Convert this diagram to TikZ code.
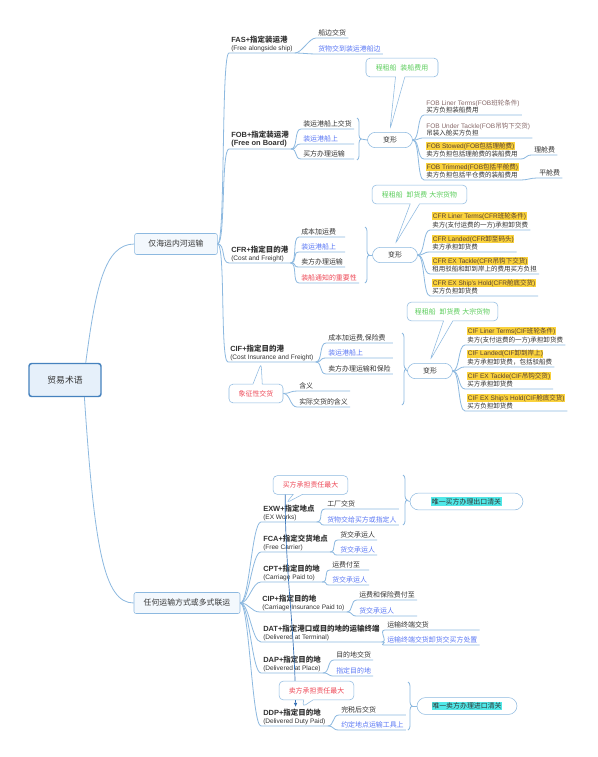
\documentclass[tikz,border=0pt]{standalone}
\usepackage{fontspec}
\setmainfont{Liberation Sans}
\newfontfamily\cjkfont{Noto Sans CJK SC}
\usetikzlibrary{shapes.callouts,decorations.pathreplacing,arrows.meta}

% Chinese characters switch to the CJK family
\XeTeXinterchartokenstate=1
\newXeTeXintercharclass\cjkclass
\count255="3000
\loop \XeTeXcharclass\count255=\cjkclass \ifnum\count255<"9FFF \advance\count255 by 1 \repeat
\count255="FF00
\loop \XeTeXcharclass\count255=\cjkclass \ifnum\count255<"FFEF \advance\count255 by 1 \repeat
\XeTeXinterchartoks 0 \cjkclass = {\begingroup\cjkfont}
\XeTeXinterchartoks 4095 \cjkclass = {\begingroup\cjkfont}
\XeTeXinterchartoks \cjkclass 0 = {\endgroup}
\XeTeXinterchartoks \cjkclass 4095 = {\endgroup}

\definecolor{lnk}{RGB}{141,185,224}
\definecolor{rootdraw}{RGB}{70,130,190}
\definecolor{rootfill}{RGB}{230,240,250}
\definecolor{brfill}{RGB}{243,248,253}
\definecolor{txt}{RGB}{51,51,51}
\definecolor{bluetxt}{RGB}{90,120,245}
\definecolor{redtxt}{RGB}{238,72,86}
\definecolor{greentxt}{RGB}{90,205,90}
\definecolor{browntxt}{RGB}{135,105,105}
\definecolor{hltxt}{RGB}{90,65,50}
\definecolor{hlyellow}{RGB}{250,210,60}
\definecolor{hlcyan}{RGB}{80,232,232}
\definecolor{reltxt}{RGB}{50,110,180}

\newcommand\hly[1]{{\setlength\fboxsep{0.4pt}\colorbox{hlyellow}{\textcolor{hltxt}{#1}}}}
\newcommand\hlc[1]{{\setlength\fboxsep{0.6pt}\colorbox{hlcyan}{#1}}}
\newcommand\ttl[1]{{\fontsize{5.6pt}{6pt}\selectfont\bfseries #1}}

\begin{document}
\begin{tikzpicture}[x=0.75pt,y=-0.75pt,color=txt]
\tikzstyle{line} = [draw=lnk, line width=0.6pt]
\tikzstyle{root} = [rectangle, draw=rootdraw, line width=1.1pt, fill=rootfill, rounded corners=2pt,
minimum width=54pt, minimum height=24.75pt, font=\fontsize{6.6pt}{7pt}\selectfont]
\tikzstyle{branch} = [rectangle, draw=lnk, fill=brfill, rounded corners=1.5pt, minimum height=15.75pt,
font=\fontsize{5.9pt}{6pt}\selectfont]
\tikzstyle{topic} = [anchor=south west, align=left, inner xsep=1.5pt, inner ysep=1pt, font=\fontsize{4.9pt}{6pt}\selectfont]
\tikzstyle{leaf} = [anchor=south west, inner xsep=1.5pt, inner ysep=1.2pt, font=\fontsize{5.2pt}{6pt}\selectfont]
\tikzstyle{item} = [anchor=south west, align=left, inner xsep=1.5pt, inner ysep=1pt, font=\fontsize{4.9pt}{5.4pt}\selectfont]
\tikzstyle{variant} = [rectangle, draw=lnk, fill=white, rounded corners=6pt, minimum width=33.75pt,
minimum height=11.5pt, font=\fontsize{5.2pt}{6pt}\selectfont]
\tikzstyle{note} = [rectangle callout, draw=lnk, fill=white, rounded corners=3pt, callout pointer width=7pt,
minimum height=14pt, font=\fontsize{5.2pt}{6pt}\selectfont]
\tikzstyle{summary} = [rectangle, draw=lnk, fill=white, rounded corners=6.5pt, minimum height=12.5pt,
font=\fontsize{5.2pt}{6pt}\selectfont]
\tikzstyle{sumbrace} = [draw=lnk, line width=0.6pt, decorate, decoration={brace, amplitude=3pt}]
\tikzstyle{rel} = [draw=reltxt, line width=0.5pt, -{Latex[length=3pt,width=2.6pt]}]

\fill[white] (0,0) rectangle (598,757);
\useasboundingbox (0,0) rectangle (598,757);

% root and main branches
\node[root] (terms) at (65,380) {贸易术语};
\node[branch, minimum width=62pt] (sea) at (176,244) {仅海运内河运输};
\node[branch, minimum width=79.5pt] (any) at (187,603) {任何运输方式或多式联运};

% FAS
\node[topic] (fas) at (229,53) {\ttl{FAS+指定装运港}\\(Free alongside ship)};
\node[leaf] (fas1) at (316,38) {船边交货};
\node[leaf, text=bluetxt] (fas2) at (316,54) {货物交到装运港船边};

% FOB
\node[topic] (fob) at (229,149) {\ttl{FOB+指定装运港}\\\ttl{(Free on Board)}};
\node[leaf] (fob1) at (301,129) {装运港船上交货};
\node[leaf, text=bluetxt] (fob2) at (301,144) {装运港船上};
\node[leaf] (fob3) at (301,159) {买方办理运输};
\coordinate (fobb) at (361,139);
\node[variant] (fobv) at (390,140) {变形};
\node[note, callout absolute pointer={([yshift=2pt]fobv.north)}, minimum width=54pt, text=greentxt] (fobn) at (402,67.5) {程租船\ \ 装船费用};
\node[item] (fobv1) at (424,115) {\textcolor{browntxt}{FOB Liner Terms(FOB班轮条件)}\\买方负担装船费用};
\node[item] (fobv2) at (424,138) {\textcolor{browntxt}{FOB Under Tackle(FOB吊钩下交货)}\\吊装入舱买方负担};
\node[item] (fobv3) at (424,159) {\hly{FOB Stowed(FOB包括理舱费)}\\卖方负担包括理舱费的装船费用};
\node[item] (fobv4) at (424,180) {\hly{FOB Trimmed(FOB包括平舱费)}\\卖方负担包括平仓费的装船费用};
\node[leaf] (fobs) at (532,155) {理舱费};
\node[leaf] (fobt) at (537,178) {平舱费};

% CFR
\node[topic] (cfr) at (229,263) {\ttl{CFR+指定目的港}\\(Cost and Freight)};
\node[leaf] (cfr1) at (299,237) {成本加运费};
\node[leaf, text=bluetxt] (cfr2) at (299,252) {装运港船上};
\node[leaf] (cfr3) at (299,267) {卖方办理运输};
\node[leaf, text=redtxt] (cfr4) at (299,283) {装船通知的重要性};
\coordinate (cfrb) at (369,255);
\node[variant] (cfrv) at (395,255) {变形};
\node[note, callout absolute pointer={([yshift=2pt]cfrv.north)}, minimum width=71pt, text=greentxt] (cfrn) at (419.5,194.5) {程租船\ \ 卸货费 大宗货物};
\node[item] (cfrv1) at (430,230) {\hly{CFR Liner Terms(CFR班轮条件)}\\卖方(支付运费的一方)承担卸货费};
\node[item] (cfrv2) at (430,252) {\hly{CFR Landed(CFR卸至码头)}\\卖方承担卸货费};
\node[item] (cfrv3) at (430,274) {\hly{CFR EX Tackle(CFR吊钩下交货)}\\租用驳船和卸到岸上的费用买方负担};
\node[item] (cfrv4) at (430,296) {\hly{CFR EX Ship\char"27 s Hold(CFR舱底交货)}\\买方负担卸货费};

% CIF
\node[topic] (cif) at (228,362) {\ttl{CIF+指定目的港}\\(Cost Insurance and Freight)};
\node[leaf] (cif1) at (326,343) {成本加运费,保险费};
\node[leaf, text=bluetxt] (cif2) at (326,358) {装运港船上};
\node[leaf] (cif3) at (326,374) {卖方办理运输和保险};
\node[note, callout absolute pointer={([xshift=-8pt,yshift=-1pt]cif.south)}, minimum width=40.5pt, text=redtxt] (cifn) at (256,393.5) {象征性交货};
\node[leaf] (cifx1) at (297,391) {含义};
\node[leaf] (cifx2) at (297,407) {实际交货的含义};
\coordinate (cifb) at (405,369);
\node[variant] (cifv) at (430,371) {变形};
\node[note, callout absolute pointer={([yshift=2pt]cifv.north)}, minimum width=68pt, text=greentxt] (cifn2) at (452.5,311.5) {程租船\ \ 卸货费 大宗货物};
\node[item] (cifv1) at (465,345) {\hly{CIF Liner Terms(CIF班轮条件)}\\卖方(支付运费的一方)承担卸货费};
\node[item] (cifv2) at (465,367) {\hly{CIF Landed(CIF卸到岸上)}\\卖方承担卸货费，包括驳船费};
\node[item] (cifv3) at (465,389) {\hly{CIF EX Tackle(CIF吊钩交货)}\\买方承担卸货费};
\node[item] (cifv4) at (465,411) {\hly{CIF EX Ship\char"27 s Hold(CIF舱底交货)}\\买方负担卸货费};

% any mode of transport
\node[topic] (exw) at (261,522) {\ttl{EXW+指定地点}\\(EX Works)};
\node[leaf] (exw1) at (325,509) {工厂交货};
\node[leaf, text=bluetxt] (exw2) at (325,525) {货物交给买方或指定人};
\node[topic] (fca) at (261,552) {\ttl{FCA+指定交货地点}\\(Free Carrier)};
\node[leaf] (fca1) at (338,540) {货交承运人};
\node[leaf, text=bluetxt] (fca2) at (338,555) {货交承运人};
\node[topic] (cpt) at (261,582) {\ttl{CPT+指定目的地}\\(Carriage Paid to)};
\node[leaf] (cpt1) at (330,570) {运费付至};
\node[leaf, text=bluetxt] (cpt2) at (330,585) {货交承运人};
\node[topic] (cip) at (260,612) {\ttl{CIP+指定目的地}\\(Carriage Insurance Paid to)};
\node[leaf] (cip1) at (357,600) {运费和保险费付至};
\node[leaf, text=bluetxt] (cip2) at (357,616) {货交承运人};
\node[topic] (dat) at (261,642) {\ttl{DAT+指定港口或目的地的运输终端}\\(Delivered at Terminal)};
\node[leaf] (dat1) at (385,630) {运输终端交货};
\node[leaf, text=bluetxt] (dat2) at (385,645) {运输终端交货卸货交买方处置};
\node[topic] (dap) at (261,673) {\ttl{DAP+指定目的地}\\(Delivered at Place)};
\node[leaf] (dap1) at (334,660) {目的地交货};
\node[leaf, text=bluetxt] (dap2) at (334,676) {指定目的地};
\node[topic] (ddp) at (261,726) {\ttl{DDP+指定目的地}\\(Delivered Duty Paid)};
\node[leaf] (ddp1) at (339,715) {完税后交货};
\node[leaf, text=bluetxt] (ddp2) at (339,730) {约定地点运输工具上};
\node[note, callout absolute pointer={([xshift=-2pt]exw.north)}, minimum width=56pt, text=redtxt] (exwn) at (310.5,485) {买方承担责任最大};
\draw[rel] ([xshift=-19pt]exwn.south) .. controls +(0,80) and +(-1,-80) .. ([xshift=1pt]ddp.north);
\node[note, callout absolute pointer={([xshift=6pt]ddp.north)}, minimum width=56pt, text=redtxt] (ddpn) at (316.5,690.5) {卖方承担责任最大};
\coordinate (exwb) at (406,500);
\node[summary, minimum width=84.75pt] (exws) at (466.5,501.5) {\hlc{唯一买方办理出口清关}};
\coordinate (ddpb) at (411,706);
\node[summary, minimum width=75pt] (ddps) at (467,706) {\hlc{唯一卖方办理进口清关}};

% connectors
\draw[line] ([xshift=-12pt]terms.north east) .. controls +(10,-75) and +(-30,0) .. (sea.west);
\draw[line] ([xshift=-13pt]terms.south east) .. controls +(10,150) and +(-30,0) .. (any.west);
\foreach \t in {fas,fob,cfr,cif}
  \draw[line] (sea.east) .. controls +(8,0) and +(-8,0) .. (\t.south west) -- (\t.south east);
\foreach \t in {exw,fca,cpt,cip,dat,dap,ddp}
  \draw[line] (any.east) .. controls +(9,0) and +(-9,0) .. (\t.south west) -- (\t.south east);
\foreach \t/\l/\e in {fas/fas1/fas1,fas/fas2/fas2,fob/fob1/fob1,fob/fob2/fob1,fob/fob3/fob1,
  cfr/cfr1/cfr3,cfr/cfr2/cfr3,cfr/cfr3/cfr3,cfr/cfr4/cfr4,cif/cif1/cif3,cif/cif2/cif3,cif/cif3/cif3,
  fobv3/fobs/fobs,fobv4/fobt/fobt,exw/exw1/exw2,exw/exw2/exw2,fca/fca1/fca1,fca/fca2/fca2,
  cpt/cpt1/cpt2,cpt/cpt2/cpt2,cip/cip1/cip1,cip/cip2/cip1,dat/dat1/dat2,dat/dat2/dat2,
  dap/dap1/dap1,dap/dap2/dap1,ddp/ddp1/ddp2,ddp/ddp2/ddp2}
  \draw[line] (\t.south east) .. controls +(7,0) and +(-7,0) .. (\l.south west) -- (\l.south west -| \e.south east);
\foreach \l in {cifx1,cifx2}
  \draw[line] (cifn.east) .. controls +(7,0) and +(-7,0) .. (\l.south west) -- (\l.south west -| cifx2.south east);
\foreach \v in {fobv1,fobv2,fobv3,fobv4}
  \draw[line] (fobv.east) .. controls +(7,0) and +(-7,0) .. (\v.south west) -- (\v.south east);
\foreach \v in {cfrv1,cfrv2,cfrv3,cfrv4}
  \draw[line] (cfrv.east) .. controls +(7,0) and +(-7,0) .. (\v.south west) -- (\v.south east);
\foreach \v in {cifv1,cifv2,cifv3,cifv4}
  \draw[line] (cifv.east) .. controls +(7,0) and +(-7,0) .. (\v.south west) -- (\v.south east);

% summaries
\draw[sumbrace] (357,118) -- (357,160);
\draw[sumbrace] (365,227) -- (365,283);
\draw[sumbrace] (402,333) -- (402,405);
\draw[sumbrace] (403,475) -- (403,525);
\draw[sumbrace] (408,682) -- (408,730);
\draw[line] (fobb) -- (fobv.west);
\draw[line] (cfrb) -- (cfrv.west);
\draw[line] (cifb) -- (cifv.west);
\draw[line] (exwb) -- (exws.west);
\draw[line] (ddpb) -- (ddps.west);
\end{tikzpicture}
\end{document}
